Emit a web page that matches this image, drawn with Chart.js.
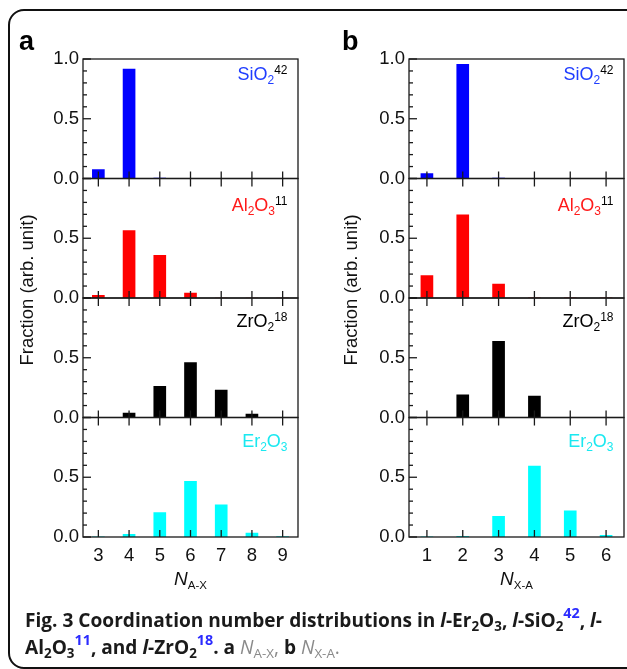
<!DOCTYPE html>
<html>
<head>
<meta charset="utf-8">
<script src="https://cdn.jsdelivr.net/npm/chart.js@4.4.0/dist/chart.umd.min.js"></script>
<style>
  body { margin: 0; background: #fff; width: 627px; height: 669px; overflow: hidden; position: relative; }
  .frame { position: absolute; left: 8px; top: 9px; width: 640px; height: 656px; border: 2px solid #111; border-radius: 16px; }
  #chartA { position: absolute; left: 0; top: 0; }
  #chartB { position: absolute; left: 320px; top: 0; }
  .panel { position: absolute; font-family: "Liberation Sans", Arial, sans-serif; font-weight: bold; font-size: 27px; line-height: 27px; color: #000; }
  .caption { position: absolute; left: 25px; top: 607px; font-family: "Open Sans", sans-serif; font-weight: 700; font-size: 19.1px; line-height: 26.7px; color: #1a1a1a; white-space: nowrap; }
  .caption sub, .caption sup { font-size: 70%; line-height: 0; position: relative; vertical-align: baseline; }
  .caption sub { top: 0.3em; }
  .caption sup { top: -0.6em; color: #2b2bff; font-size: 75%; }
  .caption .n { color: #8a8a8a; font-weight: 400; }
  .caption .n sub { color: #8a8a8a; }
</style>
</head>
<body>
<div class="frame"></div>
<canvas id="chartA" width="320" height="669"></canvas>
<canvas id="chartB" width="307" height="669"></canvas>
<div class="panel" style="left:19px;top:28px;">a</div>
<div class="panel" style="left:342px;top:28px;">b</div>
<div class="caption">Fig. 3 Coordination number distributions in <i>l</i>-Er<sub>2</sub>O<sub>3</sub>, <i>l</i>-SiO<sub>2</sub><sup>42</sup>, <i>l</i>-<br>Al<sub>2</sub>O<sub>3</sub><sup>11</sup>, and <i>l</i>-ZrO<sub>2</sub><sup>18</sup>. a <span class="n"><i>N</i><sub>A-X</sub>,</span> b <span class="n"><i>N</i><sub>X-A</sub>.</span></div>

<script>
  // coordination numbers on the x axes
  const catsA = ['3', '4', '5', '6', '7', '8', '9'];
  const catsB = ['1', '2', '3', '4', '5', '6'];

  // panel a: N(A-X)
  const aSiO2 = [0.075, 0.916, 0.003, 0, 0, 0, 0];
  const aAl2O3 = [0.022, 0.565, 0.358, 0.042, 0, 0, 0];
  const aZrO2 = [0, 0.037, 0.26, 0.46, 0.23, 0.028, 0];
  const aEr2O3 = [0.002, 0.022, 0.204, 0.465, 0.27, 0.033, 0.003];

  // panel b: N(X-A)
  const bSiO2 = [0.042, 0.955, 0.004, 0.002, 0.002, 0.002];
  const bAl2O3 = [0.188, 0.696, 0.117, 0.002, 0.002, 0.002];
  const bZrO2 = [0, 0.19, 0.637, 0.18, 0, 0];
  const bEr2O3 = [0.002, 0.005, 0.173, 0.593, 0.218, 0.014];

  const seriesNames = ['SiO2', 'Al2O3', 'ZrO2', 'Er2O3'];
  const seriesColors = ['#0000ff', '#ff0000', '#000000', '#00ffff'];
  const textColors = ['#1f3dff', '#ff1a1a', '#000000', '#1ae8f0'];
  const refNumbers = ['42', '11', '18', ''];

  Chart.defaults.font.family = '"Liberation Sans", Arial, sans-serif';
  Chart.defaults.color = '#111';

  // formula pieces: [text, kind] with kind 'n' normal, 's' subscript, 'p' superscript
  function formulaParts(name, ref) {
    const parts = [];
    name.match(/[A-Za-z]+|\d+/g).forEach(tok => parts.push([tok, /\d/.test(tok) ? 's' : 'n']));
    if (ref) parts.push([ref, 'p']);
    return parts;
  }

  function drawFormula(ctx, xRight, yBase, parts, color) {
    const big = '18px "Liberation Sans", Arial, sans-serif';
    const small = '12px "Liberation Sans", Arial, sans-serif';
    let total = 0;
    parts.forEach(([t, k]) => { ctx.font = k === 'n' ? big : small; total += ctx.measureText(t).width; });
    let x = xRight - total;
    ctx.textAlign = 'left';
    ctx.textBaseline = 'alphabetic';
    parts.forEach(([t, k]) => {
      ctx.font = k === 'n' ? big : small;
      ctx.fillStyle = k === 'p' ? '#000' : color;
      const y = k === 's' ? yBase + 4 : k === 'p' ? yBase - 6 : yBase;
      ctx.fillText(t, x, y);
      x += ctx.measureText(t).width;
    });
  }

  function makePanel(id, cats, series, subText, titleX, pad) {
    const labelDrop = [21, 32, 29, 29];

    const framePlugin = {
      id: 'frame',
      afterDatasetsDraw(chart) {
        const ctx = chart.ctx;
        const area = chart.chartArea;
        const xs = chart.scales.x;
        const line = (x1, y1, x2, y2) => { ctx.beginPath(); ctx.moveTo(x1, y1); ctx.lineTo(x2, y2); ctx.stroke(); };
        ctx.save();
        ctx.strokeStyle = '#1a1a1a';
        ctx.lineWidth = 1.3;
        series.forEach((_, i) => {
          const ys = chart.scales['y' + i];
          const top = ys.getPixelForValue(1);
          const bot = ys.getPixelForValue(0);
          ctx.strokeRect(area.left, top, area.right - area.left, bot - top);
          for (let k = 0; k <= 10; k++) {
            const py = ys.getPixelForValue(k / 10);
            line(area.left, py, area.left + (k % 5 === 0 ? 8 : 4), py);
          }
          cats.forEach((c, j) => {
            const px = xs.getPixelForValue(j);
            line(px, bot, px, bot - 7);
            if (i > 0) line(px, top, px, top + 8);
          });
          drawFormula(ctx, area.right - 10.5, top + labelDrop[i], formulaParts(seriesNames[i], refNumbers[i]), textColors[i]);
        });

        // y title
        ctx.fillStyle = '#111';
        ctx.font = '18.5px "Liberation Sans", Arial, sans-serif';
        ctx.textAlign = 'center';
        ctx.textBaseline = 'middle';
        ctx.save();
        ctx.translate(titleX, 290);
        ctx.rotate(-Math.PI / 2);
        ctx.fillText('Fraction (arb. unit)', 0, 0);
        ctx.restore();

        // x title: italic N with subscript
        const cx = (area.left + area.right) / 2;
        ctx.font = 'italic 19px "Liberation Sans", Arial, sans-serif';
        const wN = ctx.measureText('N').width;
        ctx.font = '11.5px "Liberation Sans", Arial, sans-serif';
        const wS = ctx.measureText(subText).width;
        let x = cx - (wN + wS) / 2;
        ctx.textAlign = 'left';
        ctx.textBaseline = 'alphabetic';
        ctx.font = 'italic 19px "Liberation Sans", Arial, sans-serif';
        ctx.fillText('N', x, 585);
        ctx.font = '11.5px "Liberation Sans", Arial, sans-serif';
        ctx.fillText(subText, x + wN, 589);
        ctx.restore();
      }
    };

    const scales = {
      x: {
        type: 'category',
        offset: true,
        grid: { display: false, drawTicks: false },
        border: { display: false },
        ticks: { font: { size: 18.5 }, padding: 8, maxRotation: 0, autoSkip: false },
        afterFit: s => { s.height = 60; }
      }
    };
    series.forEach((_, i) => {
      scales['y' + i] = {
        type: 'linear',
        position: 'left',
        stack: 'panel',
        stackWeight: 1,
        weight: series.length - i,
        min: 0,
        max: 1,
        grid: { display: false, drawTicks: false },
        border: { display: false },
        ticks: { font: { size: 18.5 }, padding: 4, callback: v => v.toFixed(1) },
        afterBuildTicks: s => { s.ticks = (i === 0 ? [0, 0.5, 1] : [0, 0.5]).map(v => ({ value: v })); },
        afterFit: s => { s.width = 60; }
      };
    });

    new Chart(document.getElementById(id), {
      type: 'bar',
      data: {
        labels: cats,
        datasets: series.map((d, i) => ({
          label: seriesNames[i],
          data: d,
          yAxisID: 'y' + i,
          backgroundColor: seriesColors[i],
          borderWidth: 0,
          barThickness: 12,
          grouped: false
        }))
      },
      options: {
        responsive: false,
        animation: false,
        layout: { padding: pad },
        plugins: { legend: { display: false }, tooltip: { enabled: false } },
        scales: scales
      },
      plugins: [framePlugin]
    });
  }

  makePanel('chartA', catsA, [aSiO2, aAl2O3, aZrO2, aEr2O3], 'A-X', 28, { left: 23, right: 22, top: 59, bottom: 72 });
  makePanel('chartB', catsB, [bSiO2, bAl2O3, bZrO2, bEr2O3], 'X-A', 32, { left: 29, right: 3, top: 59, bottom: 72 });
</script>
</body>
</html>
